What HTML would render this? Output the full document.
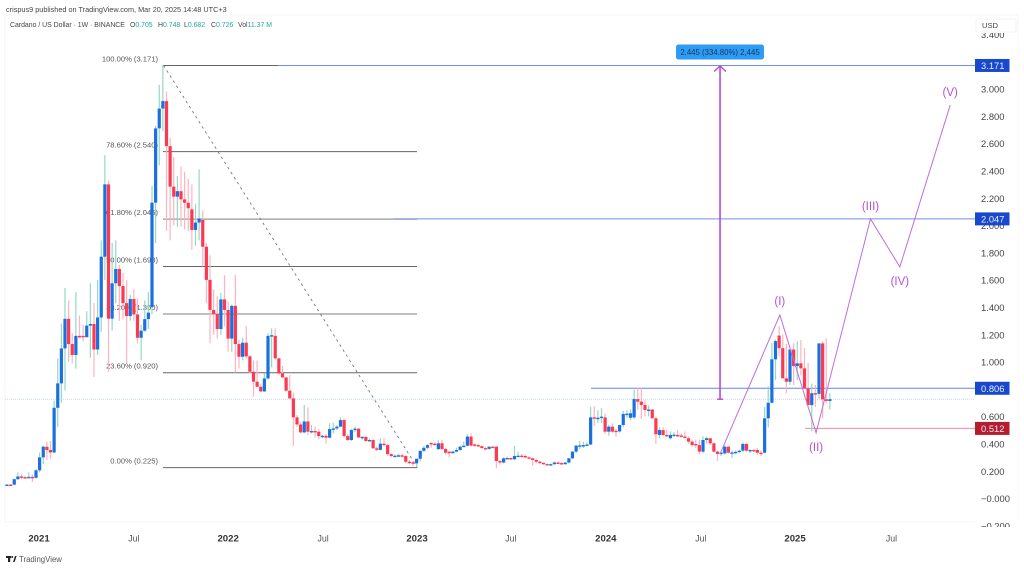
<!DOCTYPE html>
<html>
<head>
<meta charset="utf-8">
<title>Cardano / US Dollar chart</title>
<style>
html,body{margin:0;padding:0;background:#fff;width:1024px;height:569px;overflow:hidden}
body{font-family:"Liberation Sans",sans-serif;position:relative}
svg{position:absolute;left:0;top:0;filter:blur(0.3px)}
text{font-family:"Liberation Sans",sans-serif}
</style>
</head>
<body>
<svg id="c" width="1024" height="569" viewBox="0 0 1024 569">
<rect x="5" y="15" width="1013" height="507" fill="#fff" stroke="#f6f6f6"/>
<text x="6" y="12" font-size="7.3" fill="#444">crispus9 published on TradingView.com, Mar 20, 2025 14:48 UTC+3</text>
<text y="27" font-size="6.9" fill="#444"><tspan x="10">Cardano / US Dollar · 1W · BINANCE</tspan><tspan x="130">O</tspan><tspan fill="#26a69a">0.705</tspan><tspan x="158">H</tspan><tspan fill="#26a69a">0.748</tspan><tspan x="184">L</tspan><tspan fill="#26a69a">0.682</tspan><tspan x="211">C</tspan><tspan fill="#26a69a">0.726</tspan><tspan x="238">Vol</tspan><tspan fill="#26a69a">11.37 M</tspan></text>
<g id="gFib"></g>
<g id="gLines"></g>
<g id="gCandles"></g>
<g id="gDraw"></g>
<g id="gAxis"></g>
<g>
<rect x="6" y="556" width="5" height="2" fill="#222"/>
<rect x="8" y="556" width="2.2" height="6" fill="#222"/>
<circle cx="12.2" cy="557" r="1" fill="#222"/>
<polygon points="13,562 15,556 16.6,556 14.6,562" fill="#222"/>
<text x="19" y="562" font-size="7.8" fill="#555">TradingView</text>
</g>
</svg>
<script>
var opens=[.10,.10,.10,.14,.16,.155,.15,.157,.15,.205,.30,.378,.354,.336,.663,.842,1.098,1.315,1.13,1.05,
1.19,1.19,1.18,1.265,1.277,1.09,1.325,1.77,2.30,1.316,1.575,1.68,1.555,1.43,1.335,1.46,1.347,1.176,1.228,1.313,
1.40,2.166,2.71,2.855,2.91,2.58,2.283,2.21,2.25,2.19,2.165,2.117,1.966,2.02,2.04,1.843,1.60,1.38,1.35,1.24,
1.457,1.38,1.17,1.41,1.13,1.037,1.14,1.04,.927,.854,.817,.783,.878,1.19,1.19,1.025,.915,.886,.788,.732,
.593,.541,.483,.563,.488,.493,.488,.456,.458,.444,.507,.512,.525,.573,.456,.427,.50,.51,.446,.45,
.42,.427,.366,.355,.40,.39,.324,.31,.312,.315,.31,.268,.263,.256,.29,.348,.37,.405,.40,.36,
.403,.361,.342,.33,.342,.354,.378,.385,.452,.395,.39,.382,.368,.362,.378,.378,.273,.262,.293,.295,
.286,.31,.312,.31,.30,.293,.281,.268,.26,.251,.249,.25,.262,.258,.25,.262,.293,.342,.386,.388,
.39,.394,.593,.586,.59,.593,.488,.525,.495,.49,.537,.618,.59,.593,.727,.708,.684,.647,.65,.586,
.464,.50,.464,.44,.464,.464,.46,.452,.44,.415,.398,.39,.342,.427,.44,.403,.342,.325,.329,.378,
.334,.336,.34,.349,.398,.349,.354,.354,.334,.334,.586,.70,1.018,1.192,1.10,.879,.854,1.09,.969,.989,
.952,.805,.683,.77,.765,1.135,.725,.713,.705];
var highs=[.105,.105,.145,.19,.18,.165,.19,.175,.215,.335,.385,.415,.42,.715,1.025,1.28,1.54,1.45,1.21,1.51,
1.34,1.27,1.37,1.575,1.43,1.6,1.89,2.515,2.33,1.87,1.89,1.71,1.65,1.6,1.49,1.53,1.465,1.27,1.45,1.51,
2.288,2.73,3.03,3.171,2.98,2.64,2.50,2.36,2.43,2.39,2.34,2.3,2.16,2.41,2.11,1.87,1.78,1.53,1.48,1.506,
1.635,1.44,1.42,1.635,1.16,1.176,1.262,1.05,1.01,1.01,.84,.915,1.208,1.245,1.245,1.03,.969,.89,.903,.773,
.61,.56,.683,.666,.535,.525,.505,.465,.47,.55,.555,.535,.595,.585,.47,.51,.525,.515,.455,.455,
.44,.435,.38,.44,.44,.40,.33,.32,.325,.325,.315,.28,.27,.29,.35,.385,.395,.41,.41,.425,
.43,.37,.34,.35,.37,.385,.415,.47,.475,.40,.395,.385,.375,.38,.385,.385,.28,.30,.305,.30,
.385,.34,.325,.32,.305,.30,.29,.275,.262,.255,.255,.27,.27,.265,.265,.295,.345,.39,.42,.415,
.41,.67,.675,.645,.66,.62,.54,.55,.51,.54,.64,.645,.65,.795,.81,.81,.72,.68,.655,.60,
.52,.52,.50,.49,.485,.50,.475,.49,.455,.43,.43,.43,.455,.45,.445,.41,.35,.34,.39,.385,
.35,.35,.355,.41,.405,.36,.36,.37,.35,.67,.82,1.14,1.163,1.26,1.20,1.13,.95,1.135,1.15,1.16,
1.10,.99,.84,.83,.79,1.15,1.172,.77,.748];
var lows=[.095,.095,.095,.135,.14,.145,.145,.12,.145,.19,.25,.28,.29,.33,.52,.70,.79,1.0,.99,.95,
1.17,1.15,1.18,1.03,.89,1.05,1.22,1.6,.927,1.23,1.43,1.30,1.31,.99,1.30,1.30,1.135,1.01,1.22,1.24,
1.35,1.87,2.44,2.69,1.96,1.89,2.0,1.99,1.99,1.97,1.96,1.82,1.85,1.89,1.70,1.43,1.135,1.2,1.17,1.196,
1.26,1.074,1.074,.92,.95,1.01,1.02,.915,.744,.815,.78,.78,.87,.96,1.015,.905,.88,.78,.725,.383,
.525,.475,.475,.465,.475,.446,.432,.44,.40,.44,.475,.50,.52,.445,.42,.42,.485,.44,.43,.415,
.415,.365,.345,.35,.38,.31,.30,.30,.305,.30,.255,.25,.235,.23,.27,.34,.36,.37,.385,.355,
.355,.32,.30,.33,.335,.345,.375,.38,.38,.375,.375,.365,.355,.355,.37,.22,.245,.255,.285,.28,
.28,.305,.30,.295,.285,.24,.255,.25,.245,.245,.245,.245,.25,.245,.245,.255,.285,.33,.36,.37,
.38,.39,.53,.55,.55,.47,.46,.48,.45,.48,.52,.59,.57,.58,.65,.58,.60,.60,.585,.40,
.44,.455,.45,.43,.45,.45,.445,.44,.40,.38,.37,.32,.33,.40,.39,.335,.273,.31,.32,.33,
.295,.325,.33,.34,.34,.33,.34,.32,.31,.33,.52,.695,.866,1.04,1.0,.77,.83,.83,.867,.90,
.84,.78,.49,.67,.73,.585,.695,.65,.682];
var closes=[.10,.098,.14,.16,.155,.152,.157,.15,.205,.30,.378,.354,.336,.663,.842,1.098,1.315,1.13,1.05,1.19,
1.185,1.18,1.265,1.277,1.09,1.325,1.77,2.30,1.316,1.575,1.68,1.555,1.43,1.335,1.46,1.347,1.176,1.228,1.313,1.36,
2.166,2.71,2.855,2.91,2.58,2.283,2.21,2.25,2.19,2.165,2.125,1.966,2.02,2.05,1.843,1.60,1.38,1.35,1.24,1.457,
1.38,1.17,1.41,1.13,1.037,1.14,1.04,.927,.854,.817,.783,.878,1.19,1.195,1.025,.915,.886,.788,.732,.593,
.541,.483,.563,.488,.493,.488,.456,.458,.444,.507,.512,.525,.573,.456,.427,.50,.51,.446,.45,.42,
.427,.366,.355,.40,.39,.324,.31,.312,.315,.313,.268,.263,.256,.29,.348,.37,.39,.40,.395,.403,
.361,.334,.33,.342,.354,.378,.385,.452,.386,.386,.382,.368,.362,.378,.376,.273,.262,.293,.295,.286,
.31,.312,.31,.30,.293,.281,.268,.26,.251,.249,.25,.262,.258,.25,.262,.293,.342,.386,.388,.39,
.394,.593,.586,.59,.598,.488,.525,.488,.49,.537,.618,.62,.623,.727,.708,.684,.647,.65,.586,.469,
.50,.464,.456,.464,.466,.46,.452,.447,.415,.39,.39,.342,.427,.44,.403,.342,.325,.334,.378,.334,
.336,.34,.349,.398,.349,.354,.35,.334,.333,.586,.70,1.018,1.152,1.10,.879,.854,1.09,.969,.989,.952,
.805,.683,.77,.765,1.135,.725,.713,.726];
var fibLevels=["100.00%","78.60%","61.80%","50.00%","38.20%","23.60%","0.00%"];
var fibPrices=[3.171,2.540,2.045,1.698,1.350,0.920,0.225];
var priceTicks=[3.4,3.0,2.8,2.6,2.4,2.2,2.0,1.8,1.6,1.4,1.2,1.0,0.8,0.6,0.4,0.2,0,-0.2];
var timeLabels=["2021","Jul","2022","Jul","2023","Jul","2024","Jul","2025","Jul"];
var timeWeeks=[8.83,35,61,87.2,113.1,139,165.2,191.4,217.4,244];
var waveWeeks=[196.7,213.2,223.2,238.2,246.3,260.2];
var wavePrices=[.325,1.343,.48,2.047,1.695,2.881];
var waveLabels=["(I)","(II)","(III)","(IV)","(V)"];
var lastPrice=0.726;
var measureFrom=0.726,measureTo=3.171;

function xS(i){return 7+3.625*i;}
function yS(p){return 498.3-136.5*p;}
var NS='http://www.w3.org/2000/svg';
function mk(parent,tag,attrs,txt){
  var e=document.createElementNS(NS,tag);
  for(var k in attrs)e.setAttribute(k,attrs[k]);
  if(txt!==undefined)e.textContent=txt;
  document.getElementById(parent).appendChild(e);
  return e;
}
var el,i;
for(i=0;i<fibPrices.length;i++){
  el=mk('gFib','text',{x:158,y:yS(fibPrices[i])-4,'font-size':7.6,fill:'#555','text-anchor':'end'},fibLevels[i]+' ('+fibPrices[i].toFixed(3)+')');
  
  
  el=mk('gFib','line',{x1:163,x2:417,y1:yS(fibPrices[i]),y2:yS(fibPrices[i]),stroke:(i==2||i==4)?'#999':'#666','stroke-width':(i==2||i==4)?1.2:1});
  
  
}
el=mk('gLines','line',{x1:5,x2:975,y1:yS(lastPrice),y2:yS(lastPrice),stroke:'#c5d5f5','stroke-width':1,'stroke-dasharray':'1 1'});


el=mk('gLines','line',{x1:278,x2:975,y1:yS(3.171),y2:yS(3.171),stroke:'#6f8fe8','stroke-width':1});


el=mk('gLines','line',{x1:393,x2:975,y1:yS(2.047),y2:yS(2.047),stroke:'#6f8fe8','stroke-width':1});


el=mk('gLines','line',{x1:591,x2:975,y1:yS(0.806),y2:yS(0.806),stroke:'#5f86ea','stroke-width':1});


el=mk('gLines','line',{x1:805,x2:975,y1:yS(0.512),y2:yS(0.512),stroke:'#f08a9b','stroke-width':1});


el=mk('gLines','line',{x1:xS(43.2),y1:yS(3.171),x2:xS(113.2),y2:yS(0.225),stroke:'#777','stroke-width':.9,'stroke-dasharray':'2.5 3.5'});



for(i=0;i<closes.length;i++){
  var up=closes[i]>=opens[i],cx=xS(i);
  el=mk('gCandles','rect',{x:cx-.6,width:1.2,y:yS(highs[i]),height:Math.max(1,yS(lows[i])-yS(highs[i])),fill:up?'#93d8c8':'#fdb4bf'});
  
  
  var t=yS(Math.max(opens[i],closes[i])),b=yS(Math.min(opens[i],closes[i]));
  el=mk('gCandles','rect',{x:cx-1.6,width:3.2,y:t,height:Math.max(1.4,b-t),fill:up?'#1a70e0':'#fb3a52'});
  
  
}

var pts=[];
for(i=0;i<waveWeeks.length;i++)pts.push(xS(waveWeeks[i])+','+yS(wavePrices[i]));
el=mk('gDraw','polyline',{points:pts.join(' '),fill:'none',stroke:'#bb6fdc','stroke-width':1});


var waveOff=[-14,14,-13,14,-13];
for(i=0;i<waveLabels.length;i++){
  el=mk('gDraw','text',{x:xS(waveWeeks[i+1]),y:yS(wavePrices[i+1])+waveOff[i]+4,'font-size':11.5,fill:'#b84fd8','text-anchor':'middle'},waveLabels[i]);
  
  
}
var ax=xS(196.7);
el=mk('gDraw','line',{x1:ax,x2:ax,y1:yS(measureFrom),y2:yS(measureTo)+1,stroke:'#b24bd8','stroke-width':1.6});


el=mk('gDraw','line',{x1:ax-3,x2:ax+3,y1:yS(measureFrom),y2:yS(measureFrom),stroke:'#b24bd8','stroke-width':1.4});


el=mk('gDraw','polyline',{points:(ax-6)+','+(yS(measureTo)+6)+' '+ax+','+(yS(measureTo)+.5)+' '+(ax+6)+','+(yS(measureTo)+6),fill:'none',stroke:'#b24bd8','stroke-width':1.4});


el=mk('gDraw','rect',{x:676,y:44.5,width:88,height:15,rx:2.5,fill:'#2e9bf5'});


el=mk('gDraw','text',{x:720,y:54.8,'font-size':7.8,fill:'#173a63','text-anchor':'middle'},'2.445 (334.80%) 2,445');



el=mk('gAxis','rect',{x:975,y:33,width:43,height:494,fill:'#fff'});


for(i=0;i<priceTicks.length;i++){
  var pv=priceTicks[i],lab=(pv<=0?'\u2212':'')+Math.abs(pv).toFixed(3);
  el=mk('gAxis','text',{x:981,y:yS(pv)+3.8,'font-size':9.4,fill:'#444','clip-path':'url(#axClip)'},lab);
  
  
}
var defs=document.createElementNS(NS,'defs');
defs.innerHTML='<clipPath id="axClip"><rect x="975" y="33" width="45" height="494"></rect></clipPath>';
document.getElementById('c').appendChild(defs);
var badgePrices=[3.171,2.047,0.806,0.512],badgeColors=['#1848cc','#1848cc','#1848cc','#b71c2e'];
for(i=0;i<badgePrices.length;i++){
  el=mk('gAxis','rect',{x:975,y:yS(badgePrices[i])-6.5,width:34.5,height:13,fill:badgeColors[i]});
  
  
  el=mk('gAxis','text',{x:981,y:yS(badgePrices[i])+3.6,'font-size':9.4,fill:'#e8edfb'},badgePrices[i].toFixed(3));
  
  
}
el=mk('gAxis','rect',{x:976,y:19,width:40,height:13,fill:'#fff',stroke:'#f3f3f3'});


el=mk('gAxis','text',{x:982,y:28,'font-size':7.6,fill:'#444'},'USD');


for(i=0;i<timeLabels.length;i++){
  var yr=timeLabels[i]!='Jul';
  el=mk('gAxis','text',{x:xS(timeWeeks[i]),y:541.5,'font-size':yr?9.6:8.8,'font-weight':yr?'bold':'normal',fill:yr?'#333':'#555','text-anchor':'middle'},timeLabels[i]);
  
  
}
</script>
</body>
</html>
